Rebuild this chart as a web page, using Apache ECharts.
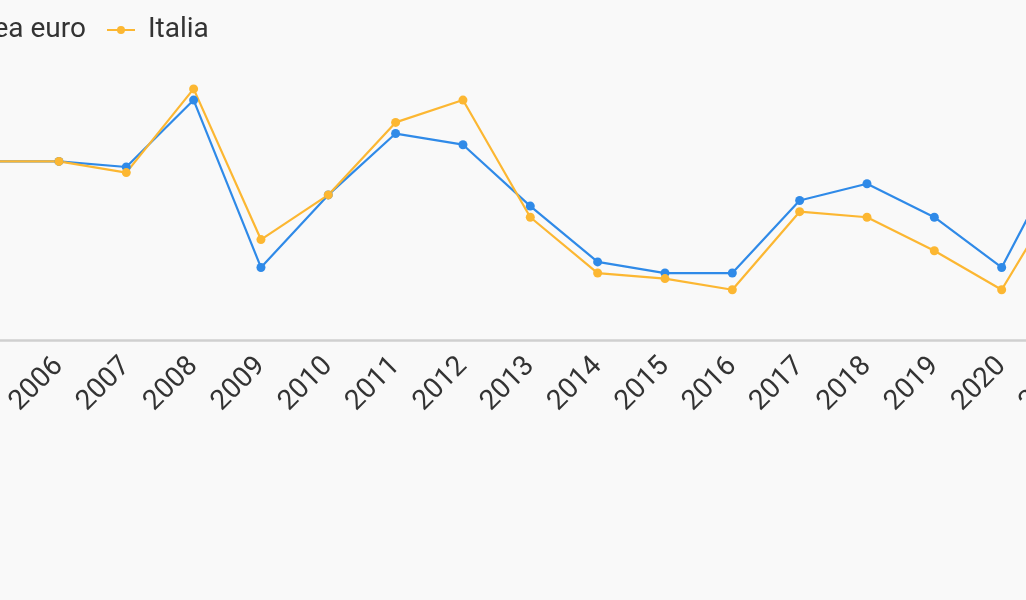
<!DOCTYPE html>
<html>
<head>
<meta charset="utf-8">
<script src="https://cdn.jsdelivr.net/npm/echarts@6/dist/echarts.min.js"></script>
<style>
html,body{margin:0;padding:0;width:1026px;height:600px;overflow:hidden;background:#f9f9f9;}
#chart{position:absolute;left:-200px;top:0;width:1400px;height:600px;}
</style>
</head>
<body>
<div id="chart"></div>
<script>
const years = ['2005','2006','2007','2008','2009','2010','2011','2012','2013','2014','2015','2016','2017','2018','2019','2020','2021'];
const areaEuro = [2.2, 2.2, 2.1, 3.3, 0.3, 1.6, 2.7, 2.5, 1.4, 0.4, 0.2, 0.2, 1.5, 1.8, 1.2, 0.3, 2.6];
const italia   = [2.2, 2.2, 2.0, 3.5, 0.8, 1.6, 2.9, 3.3, 1.2, 0.2, 0.1, -0.1, 1.3, 1.2, 0.6, -0.1, 1.9];
const seriesNames = ['Area euro', 'Italia'];
const colors = ['#2f8ae8', '#fcb732'];

const chart = echarts.init(document.getElementById('chart'), null, {renderer: 'canvas'});
chart.setOption({
  animation: false,
  backgroundColor: '#f9f9f9',
  color: colors,
  textStyle: {fontFamily: 'Roboto'},
  legend: {
    left: 119,
    top: 11,
    itemWidth: 28,
    itemHeight: 10,
    itemGap: 20,
    textStyle: {fontSize: 28, color: '#333', fontFamily: 'Roboto', padding: [0, 0, 0, 8]},
    data: seriesNames
  },
  grid: {left: 191.6, right: 131, top: 61, bottom: 260},
  xAxis: {
    type: 'category',
    data: years,
    boundaryGap: false,
    axisLine: {onZero: false, lineStyle: {color: '#d0d0d0', width: 2.5}},
    axisTick: {show: false},
    axisLabel: {rotate: 45, fontSize: 28, color: '#333', margin: 22, fontFamily: 'Roboto', interval: 0}
  },
  yAxis: {
    type: 'value',
    min: -1,
    max: 4,
    interval: 1,
    axisLine: {show: false},
    axisTick: {show: false},
    axisLabel: {show: false},
    splitLine: {show: false}
  },
  series: [
    {name: seriesNames[0], type: 'line', data: areaEuro, symbol: 'circle', symbolSize: 9, lineStyle: {width: 2.2}},
    {name: seriesNames[1], type: 'line', data: italia, symbol: 'circle', symbolSize: 9, lineStyle: {width: 2.2}}
  ]
});
</script>
</body>
</html>
